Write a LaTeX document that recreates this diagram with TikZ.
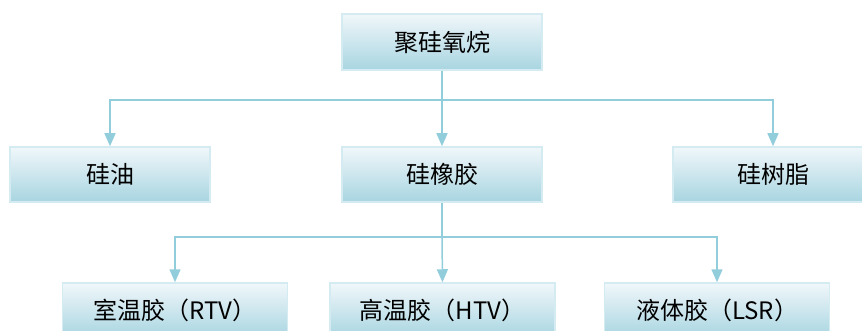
\documentclass[tikz,border=0pt]{standalone}
\usepackage{fontspec}
\newfontfamily\cjk{Noto Sans CJK SC}
\usetikzlibrary{arrows.meta}
\definecolor{linec}{RGB}{146,205,220}
\definecolor{boxtop}{RGB}{240,247,250}
\definecolor{boxbot}{RGB}{168,213,225}
\definecolor{boxline}{RGB}{213,235,242}
\begin{document}
\begin{tikzpicture}[x=1pt,y=-1pt,
  box/.style={rectangle, draw=boxline, line width=1.5pt, top color=boxtop, bottom color=boxbot,
    minimum width=200pt, minimum height=55pt, inner sep=0pt,
    font=\cjk\fontsize{24}{26}\selectfont, text=black},
  wbox/.style={box, minimum width=225pt},
  conn/.style={draw=linec, line width=1.5pt},
  arr/.style={conn, -{Triangle[width=11pt,length=13pt]}, color=linec}]
\useasboundingbox (0,0) rectangle (862,331);
\node[box, minimum height=56pt] (root) at (442,42) {聚硅氧烷};
\node[box] (b1) at (110,174.5) {硅油};
\node[box] (b2) at (442,174.5) {硅橡胶};
\node[box] (b3) at (773,174.5) {硅树脂};
\node[wbox] (c1) at (175,310.5) {室温胶（RTV）};
\node[wbox] (c2) at (442.5,310.5) {高温胶（HTV）};
\node[wbox] (c3) at (717,310.5) {液体胶（LSR）};
\coordinate (j1) at (442,100);
\coordinate (j2) at (442,237);
\draw[conn] (root.south) -- (j1);
\draw[arr] (j1) -| (b1.north);
\draw[arr] (j1) -| (b3.north);
\draw[arr] (j1) -- (b2.north);
\draw[conn] (b2.south) -- (j2);
\draw[arr] (j2) -| (c1.north);
\draw[arr] (j2) -| (c3.north);
\draw[arr] (j2) -- (c2.north);
\end{tikzpicture}
\end{document}
